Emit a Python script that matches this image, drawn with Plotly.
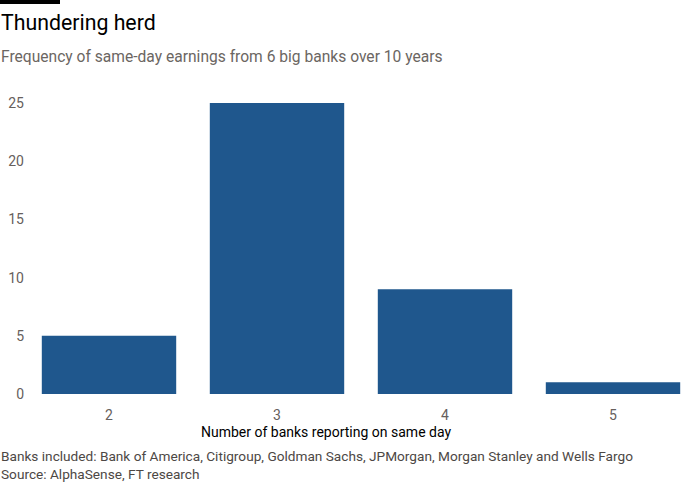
import plotly.graph_objects as go

categories = ["2", "3", "4", "5"]
counts = [5, 25, 9, 1]

title = "Thundering herd"
subtitle = "Frequency of same-day earnings from 6 big banks over 10 years"
x_title = "Number of banks reporting on same day"
note = "Banks included: Bank of America, Citigroup, Goldman Sachs, JPMorgan, Morgan Stanley and Wells Fargo"
source = "Source: AlphaSense, FT research"

W, H = 700, 500
L, R, T, B = 25, 3, 103, 106
PW, PH = W - L - R, H - T - B
FONT = "Roboto"

def px(x):
    return (x - L) / PW

def py(y):
    return (H - B - y) / PH

fig = go.Figure(go.Bar(
    x=categories, y=counts,
    marker=dict(color="#1f578d", line=dict(width=0)),
    hoverinfo="skip",
))

fig.update_layout(
    width=W, height=H,
    margin=dict(l=L, r=R, t=T, b=B),
    paper_bgcolor="white", plot_bgcolor="white",
    bargap=0.2,
    showlegend=False,
    font=dict(family=FONT, size=14, color="#66605c"),
    xaxis=dict(type="category", showgrid=False, showline=False, ticks="",
               ticklabelstandoff=11,
               tickfont=dict(size=14, color="#66605c"), fixedrange=True),
    yaxis=dict(range=[0, 25], tickvals=[0, 5, 10, 15, 20, 25], showgrid=False,
               zeroline=False, showline=False, ticks="",
               tickfont=dict(size=14, color="#66605c"), fixedrange=True),
)

fig.add_shape(type="rect", xref="paper", yref="paper",
              x0=px(0), x1=px(60), y0=py(4), y1=py(0),
              fillcolor="black", line=dict(width=0))

def text(s, x, y, size, color, xanchor="left"):
    fig.add_annotation(text=s, xref="paper", yref="paper", x=px(x), y=py(y),
                       xanchor=xanchor, yanchor="middle", showarrow=False,
                       font=dict(family=FONT, size=size, color=color))

text(title, -1, 22, 21.3, "#000000")
text(subtitle, -1, 57, 15.6, "#6b6662")
text(x_title, 326, 432, 14, "#000000", xanchor="center")
text(note, -1, 456, 13.65, "#4d4845")
text(source, -1, 474, 13.65, "#4d4845")

fig.write_html("out.html")
